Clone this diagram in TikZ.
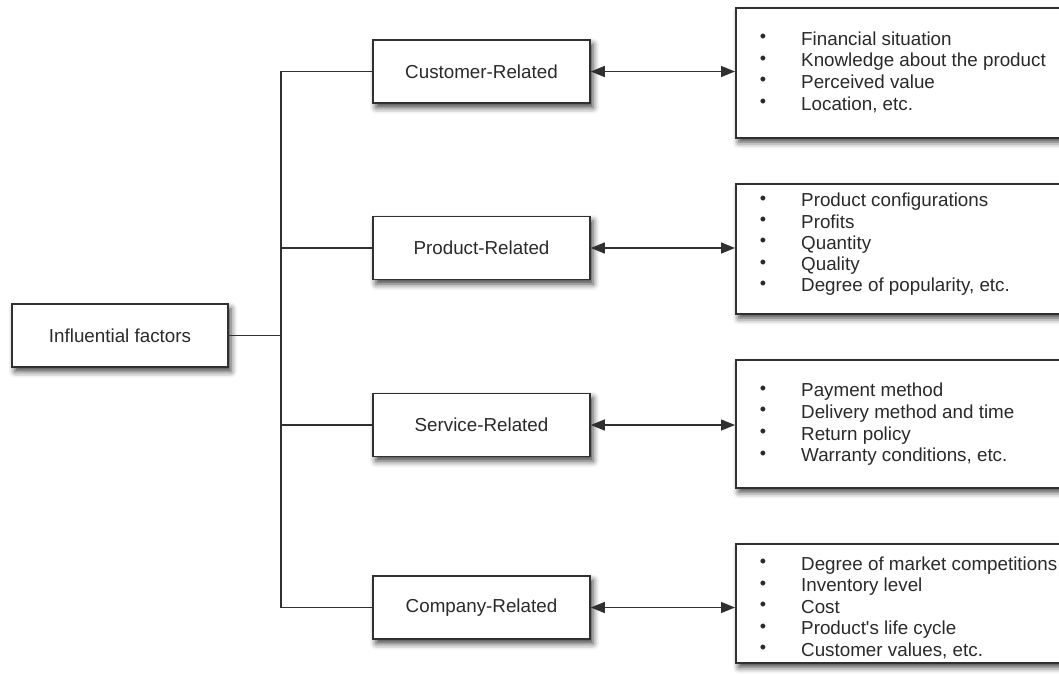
\documentclass[tikz,border=0pt]{standalone}
\usepackage{fontspec}
\setmainfont{Liberation Sans}
\usetikzlibrary{arrows.meta,shadows.blur}
\definecolor{ink}{HTML}{2A2A2A}
\definecolor{edge}{HTML}{303030}
\tikzset{
  fbox/.style={draw=edge, line width=1.6pt, fill=white, minimum width=217pt, minimum height=63pt,
    inner sep=0pt, text=ink, font=\fontsize{18.8}{22}\selectfont,
    blur shadow={shadow xshift=3pt, shadow yshift=-4.5pt, shadow blur radius=6pt, shadow opacity=75}},
  listbox/.style={draw=edge, line width=1.6pt, fill=white, minimum width=400pt, anchor=north west,
    inner sep=0pt,
    blur shadow={shadow xshift=3pt, shadow yshift=-4.5pt, shadow blur radius=6pt, shadow opacity=75}},
  item/.style={anchor=base west, inner sep=0pt, text=ink, font=\fontsize{18.8}{22}\selectfont},
  dotmark/.style={anchor=center, inner sep=0pt, text=ink, font=\fontsize{18}{18}\selectfont},
  conn/.style={draw=edge, line width=1.4pt},
  arr/.style={conn, {Triangle[length=14pt,width=11pt]}-{Triangle[length=14pt,width=11pt]}}
}
\begin{document}
\begin{tikzpicture}[x=1pt,y=1pt]
\useasboundingbox (0,0) rectangle (1059,-673);
% left nodes
\node[fbox, minimum width=216pt] (inf) at (120,-335.5) {Influential factors};
\node[fbox] (cust) at (481.5,-71.5) {Customer-Related};
\node[fbox] (prod) at (481.5,-248) {Product-Related};
\node[fbox] (serv) at (481.5,-425) {Service-Related};
\node[fbox] (comp) at (481.5,-607.5) {Company-Related};
% right boxes
\node[listbox, minimum height=130pt] (r1) at (735,-7) {};
\node[listbox, minimum height=130pt] (r2) at (735,-183) {};
\node[listbox, minimum height=128pt] (r3) at (735,-359) {};
\node[listbox, minimum height=119pt] (r4) at (735,-543) {};
% tree connectors
\coordinate (spine) at (281,0);
\draw[conn] (cust.west) -- (cust.west -| spine) -- (comp.west -| spine) -- (comp.west);
\draw[conn] (prod.west) -- (prod.west -| spine);
\draw[conn] (serv.west) -- (serv.west -| spine);
\draw[conn] (inf.east) -- (inf.east -| spine);
% arrows
\draw[arr] (cust.east) -- (cust.east -| r1.west);
\draw[arr] (prod.east) -- (prod.east -| r2.west);
\draw[arr] (serv.east) -- (serv.east -| r3.west);
\draw[arr] (comp.east) -- (comp.east -| r4.west);
% lists
\foreach \t [count=\i] in {Financial situation, Knowledge about the product, Perceived value, {Location, etc.}} {
  \node[item] (a\i) at (801,{-45-(\i-1)*21.7}) {\t};
  \node[dotmark] (ad\i) at (763,{-45-(\i-1)*21.7+6.7}) {•};
}
\foreach \t [count=\i] in {Product configurations, Profits, Quantity, Quality, {Degree of popularity, etc.}} {
  \node[item] (b\i) at (801,{-206.7-(\i-1)*21.3}) {\t};
  \node[dotmark] (bd\i) at (763,{-206.7-(\i-1)*21.3+6.7}) {•};
}
\foreach \t [count=\i] in {Payment method, Delivery method and time, Return policy, {Warranty conditions, etc.}} {
  \node[item] (c\i) at (801,{-396.7-(\i-1)*21.7}) {\t};
  \node[dotmark] (cd\i) at (763,{-396.7-(\i-1)*21.7+6.7}) {•};
}
\foreach \t [count=\i] in {Degree of market competitions, Inventory level, Cost, {Product\textquotesingle s life cycle}, {Customer values, etc.}} {
  \node[item] (e\i) at (801,{-570-(\i-1)*21.5}) {\t};
  \node[dotmark] (ed\i) at (763,{-570-(\i-1)*21.5+6.7}) {•};
}
\end{tikzpicture}
\end{document}
